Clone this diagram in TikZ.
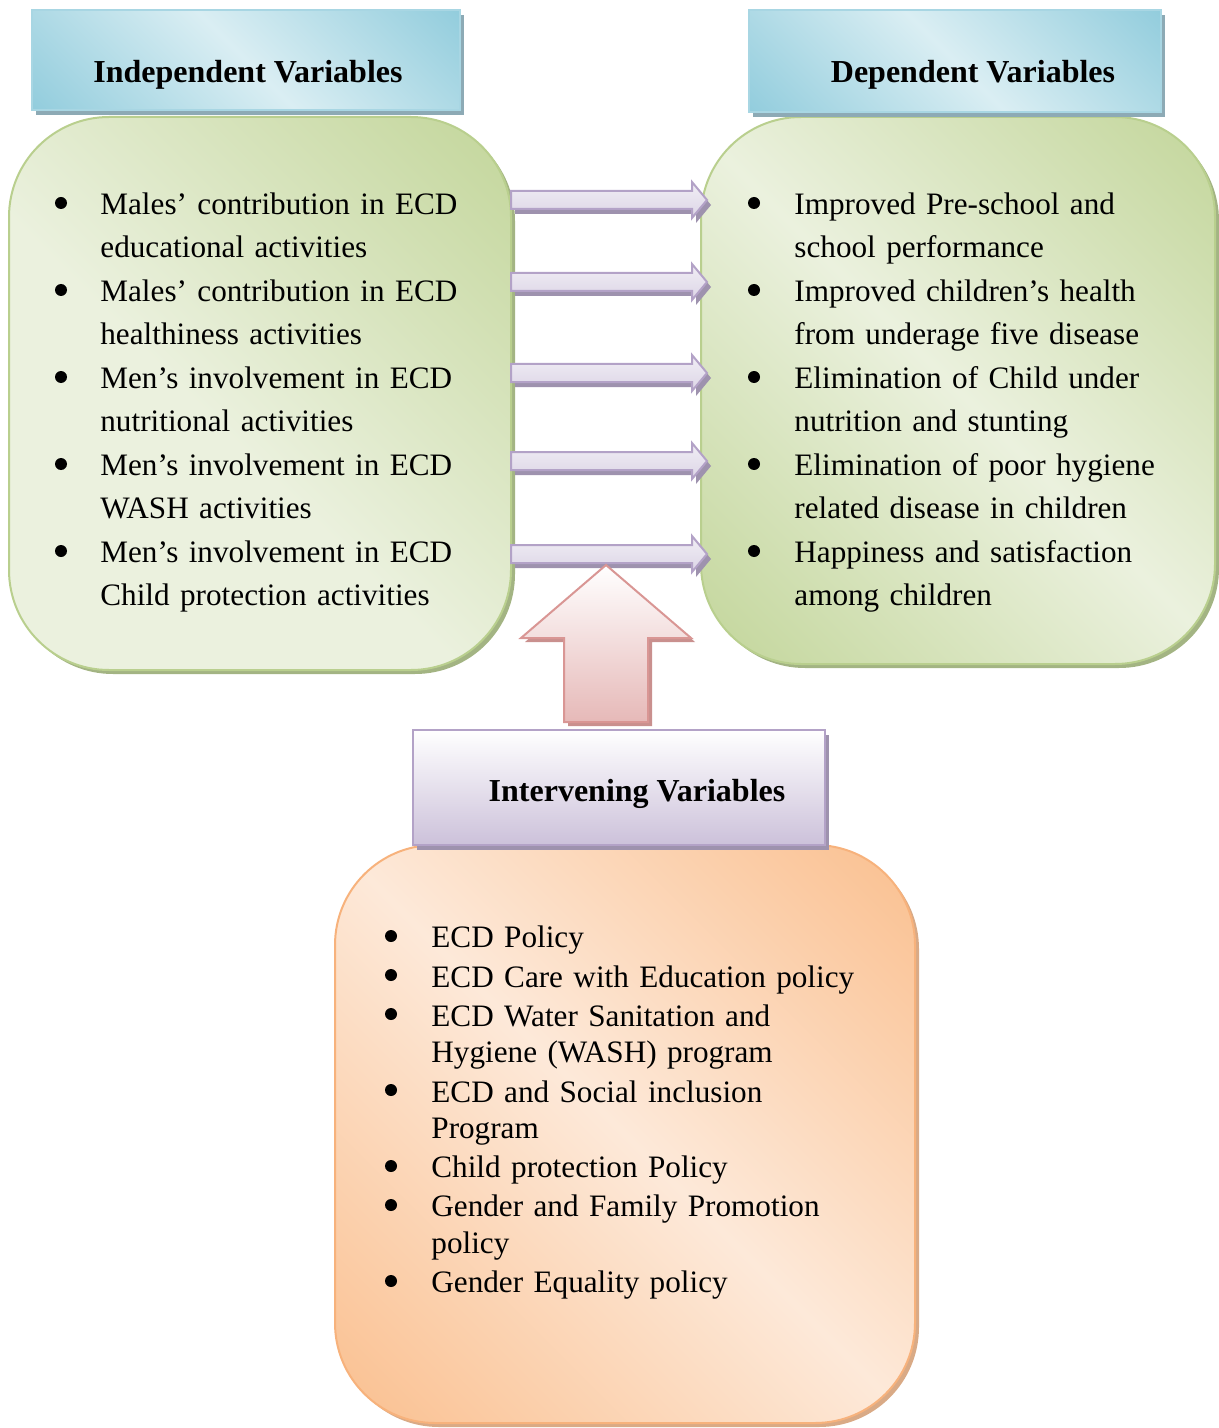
\documentclass[tikz,border=0pt]{standalone}
\usepackage{fontspec}
\setmainfont{Liberation Serif}
\usetikzlibrary{shadows}

\definecolor{hdrlight}{HTML}{DAEEF3}
\definecolor{hdrdark}{HTML}{93CDDD}
\definecolor{hdrline}{HTML}{A8D6E3}
\definecolor{hdrshadow}{HTML}{8DAAB5}
\definecolor{grnlight}{HTML}{EBF1DE}
\definecolor{grndark}{HTML}{C3D69B}
\definecolor{grnline}{HTML}{B9CF8E}
\definecolor{grnshadow}{HTML}{A3B483}
\definecolor{orglight}{HTML}{FDE9D9}
\definecolor{orgdark}{HTML}{FAC090}
\definecolor{orgline}{HTML}{F7B27C}
\definecolor{orgshadow}{HTML}{D9AA86}
\definecolor{lavdark}{HTML}{CCC1DA}
\definecolor{lavline}{HTML}{B3A2C7}
\definecolor{lavshadow}{HTML}{9E92AE}
\definecolor{arrmid}{HTML}{F7F5FA}
\definecolor{arrdark}{HTML}{DCD5E6}
\definecolor{reddark}{HTML}{E6B9B8}
\definecolor{redline}{HTML}{D99694}
\definecolor{redshadow}{HTML}{C9908E}

\pgfdeclarehorizontalshading{hdrshade}{100bp}{color(0bp)=(hdrdark); color(15bp)=(hdrdark); color(50bp)=(hdrlight); color(85bp)=(hdrdark); color(100bp)=(hdrdark)}
\pgfdeclarehorizontalshading{leftshade}{100bp}{color(0bp)=(grnlight); color(15bp)=(grnlight); color(45bp)=(grnlight); color(85bp)=(grndark); color(100bp)=(grndark)}
\pgfdeclarehorizontalshading{rightshade}{100bp}{color(0bp)=(grndark); color(15bp)=(grndark); color(50bp)=(grnlight); color(85bp)=(grndark); color(100bp)=(grndark)}
\pgfdeclarehorizontalshading{orgshade}{100bp}{color(0bp)=(orgdark); color(15bp)=(orgdark); color(50bp)=(orglight); color(85bp)=(orgdark); color(100bp)=(orgdark)}

\newenvironment{varlist}[1]{%
  \begin{list}{}{%
    \setlength\leftmargin{24pt}\setlength\labelwidth{24pt}%
    \setlength\labelsep{0pt}\setlength\itemsep{#1}%
    \setlength\parsep{0pt}\setlength\topsep{0pt}\setlength\partopsep{0pt}%
    \def\makelabel##1{\hfil}}}%
  {\end{list}}

\tikzset{
  hdrbox/.style={rectangle, draw=hdrline, line width=1pt, shading=hdrshade, shading angle=45,
    drop shadow={shadow xshift=2pt, shadow yshift=-2.5pt, fill=hdrshadow, opacity=1}},
  lavbox/.style={rectangle, draw=lavline, line width=1pt, top color=white, bottom color=lavdark,
    drop shadow={shadow xshift=2pt, shadow yshift=-2.5pt, fill=lavshadow, opacity=1}},
  hdrtext/.style={inner sep=0pt, font=\fontsize{16pt}{19pt}\selectfont\bfseries},
  roundbox/.style={rectangle, rounded corners=50pt, line width=1pt},
  greenbox/.style={roundbox, draw=grnline,
    drop shadow={shadow xshift=2pt, shadow yshift=-2pt, fill=grnshadow, opacity=1}},
  orangebox/.style={roundbox, draw=orgline, shading=orgshade, shading angle=45,
    drop shadow={shadow xshift=2pt, shadow yshift=-2pt, fill=orgshadow, opacity=1}},
  listtext/.style={anchor=north west, inner sep=0pt, text width=260pt},
  dot/.style={fill=black},
  flowarrow/.style={draw=lavline, line width=1pt, top color=white!60!arrdark, middle color=arrmid, bottom color=arrdark,
    drop shadow={shadow xshift=2pt, shadow yshift=-2.5pt, fill=lavshadow, opacity=1}},
  inflow/.style={draw=redline, line width=1pt, top color=white, bottom color=reddark,
    drop shadow={shadow xshift=2pt, shadow yshift=-2pt, fill=redshadow, opacity=1}}
}

\begin{document}
\begin{tikzpicture}[x=0.5pt, y=-0.5pt]
\useasboundingbox (0,0) rectangle (1219,1428);

\node[greenbox, shading=leftshade, shading angle=45, minimum width=251pt, minimum height=276.5pt] (lbox) at (260,393.5) {};
\node[greenbox, shading=rightshade, shading angle=45, minimum width=257pt, minimum height=273.5pt] (rbox) at (958,390.5) {};
\node[orangebox, minimum width=290pt, minimum height=289pt] (obox) at (625,1134) {};

\node[hdrbox, minimum width=214pt, minimum height=50pt] (indephdr) at (246,60) {};
\node[hdrbox, minimum width=206pt, minimum height=51pt] (dephdr) at (955,61) {};
\node[lavbox, minimum width=206pt, minimum height=57.5pt] (intvhdr) at (619,787.5) {};

\node[hdrtext] (indeptitle) at ([xshift=1pt, yshift=-7.5pt]indephdr.center) {Independent Variables};
\node[hdrtext] (deptitle) at ([xshift=9pt, yshift=-7pt]dephdr.center) {Dependent Variables};
\node[hdrtext] (intvtitle) at ([xshift=9pt, yshift=-3pt]intvhdr.center) {Intervening Variables};

\foreach \y in {200,282,373,461,554}
  \draw[flowarrow] (511,\y-9) -- (692,\y-9) -- (692,\y-18) -- (707,\y) -- (692,\y+18) -- (692,\y+9) -- (511,\y+9) -- cycle;

\draw[inflow] (606,565) -- (691,638) -- (648,638) -- (648,722) -- (564,722) -- (564,638) -- (521,638) -- cycle;

\foreach \y in {203,290,377,464,551} {
  \fill[dot] (61,\y) circle (3pt);
  \fill[dot] (754,\y) circle (3pt);
}
\foreach \y in {936,975,1014,1090,1166,1205,1281}
  \fill[dot] (391,\y) circle (3pt);

\node[listtext, font=\fontsize{15.6pt}{21.6pt}\selectfont] (indeplist) at (52,171) {%
  \begin{varlist}{0.3pt}
  \item Males’ contribution in ECD\\educational activities
  \item Males’ contribution in ECD\\healthiness activities
  \item Men’s involvement in ECD\\nutritional activities
  \item Men’s involvement in ECD\\WASH activities
  \item Men’s involvement in ECD\\Child protection activities
  \end{varlist}};

\node[listtext, font=\fontsize{15.6pt}{21.6pt}\selectfont] (deplist) at (746,171) {%
  \begin{varlist}{0.3pt}
  \item Improved Pre-school and\\school performance
  \item Improved children’s health\\from underage five disease
  \item Elimination of Child under\\nutrition and stunting
  \item Elimination of poor hygiene\\related disease in children
  \item Happiness and satisfaction\\among children
  \end{varlist}};

\node[listtext, font=\fontsize{15.6pt}{18.25pt}\selectfont] (intvlist) at (383,911) {%
  \begin{varlist}{1.35pt}
  \item ECD Policy
  \item ECD Care with Education policy
  \item ECD Water Sanitation and\\Hygiene (WASH) program
  \item ECD and Social inclusion\\Program
  \item Child protection Policy
  \item Gender and Family Promotion\\policy
  \item Gender Equality policy
  \end{varlist}};
\end{tikzpicture}
\end{document}
